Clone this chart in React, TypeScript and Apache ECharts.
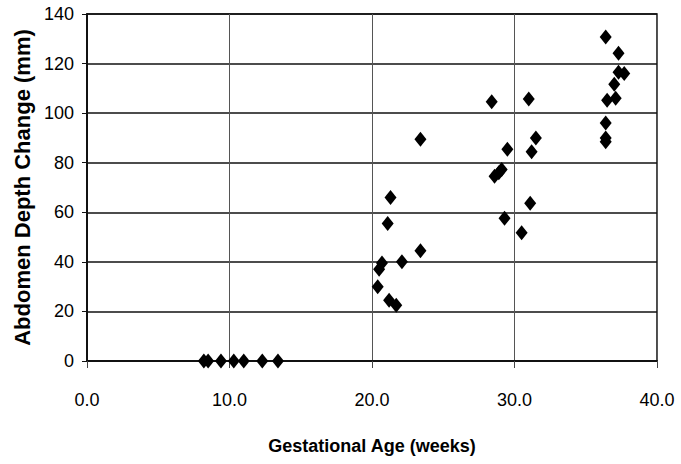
import React, { useEffect, useRef } from "react";
import * as echarts from "echarts";

const gestationalAge: number[] = [
  8.2, 8.5, 9.4, 10.3, 11.0, 12.3, 13.4,
  20.4, 20.5, 20.7, 21.2, 21.7, 22.1, 21.1, 21.3, 23.4, 23.4,
  28.4, 31.0, 31.5, 29.5, 31.2, 28.6, 28.9, 29.1, 31.1, 29.3, 30.5,
  36.4, 37.3, 37.3, 37.7, 37.0, 36.5, 37.1, 36.4, 36.4, 36.4,
];
const depthChange: number[] = [
  0, 0, 0, 0, 0, 0, 0,
  30, 37, 39.5, 24.5, 22.5, 40, 55.5, 66, 44.5, 89.5,
  104.6, 105.7, 90, 85.4, 84.4, 74.5, 76, 77.3, 63.6, 57.6, 51.7,
  130.7, 124.2, 116.5, 116, 111.7, 105.2, 106, 96, 90, 88.5,
];
const xTitle = "Gestational Age (weeks)";
const yTitle = "Abdomen Depth Change (mm)";

const FONT = "'Liberation Sans', Arial, sans-serif";

export default function App() {
  const ref = useRef<HTMLDivElement>(null);
  useEffect(() => {
    if (!ref.current) return;
    const chart = echarts.init(ref.current, null, { renderer: "svg" });
    const data = gestationalAge.map((x, i) => [x, depthChange[i]]);
    chart.setOption({
      animation: false,
      backgroundColor: "#ffffff",
      grid: {
        left: 87,
        right: 24,
        top: 14,
        bottom: 103,
        show: true,
        borderColor: "#111",
        borderWidth: 1.5,
        backgroundColor: "transparent",
      },
      xAxis: {
        type: "value",
        min: 0,
        max: 40,
        interval: 10,
        name: xTitle,
        nameLocation: "middle",
        nameGap: 76,
        nameTextStyle: { fontFamily: FONT, fontSize: 18, fontWeight: "bold", color: "#000" },
        axisLine: { show: true, onZero: false, lineStyle: { color: "#111", width: 2 } },
        axisTick: { show: true, length: 7, lineStyle: { color: "#444", width: 1 } },
        axisLabel: {
          fontFamily: FONT,
          fontSize: 18,
          color: "#000",
          margin: 30,
          formatter: (v: number) => v.toFixed(1),
        },
        splitLine: { show: true, lineStyle: { color: "#555", width: 1 } },
      },
      yAxis: {
        type: "value",
        min: 0,
        max: 140,
        interval: 20,
        name: yTitle,
        nameLocation: "middle",
        nameRotate: 90,
        nameGap: 52,
        nameTextStyle: { fontFamily: FONT, fontSize: 22, fontWeight: "bold", color: "#000" },
        axisLine: { show: true, lineStyle: { color: "#111", width: 2 } },
        axisTick: { show: true, length: 5, lineStyle: { color: "#111", width: 1 } },
        axisLabel: { fontFamily: FONT, fontSize: 18, color: "#000", margin: 13 },
        splitLine: { show: true, lineStyle: { color: "#111", width: 1.5 } },
      },
      series: [
        {
          type: "scatter",
          data,
          symbol: "diamond",
          symbolSize: [12, 15],
          itemStyle: { color: "#000", opacity: 1 },
          z: 5,
        },
      ],
    });
    return () => chart.dispose();
  }, []);
  return <div ref={ref} style={{ width: 681, height: 464, position: "absolute", left: 0, top: 0 }} />;
}
